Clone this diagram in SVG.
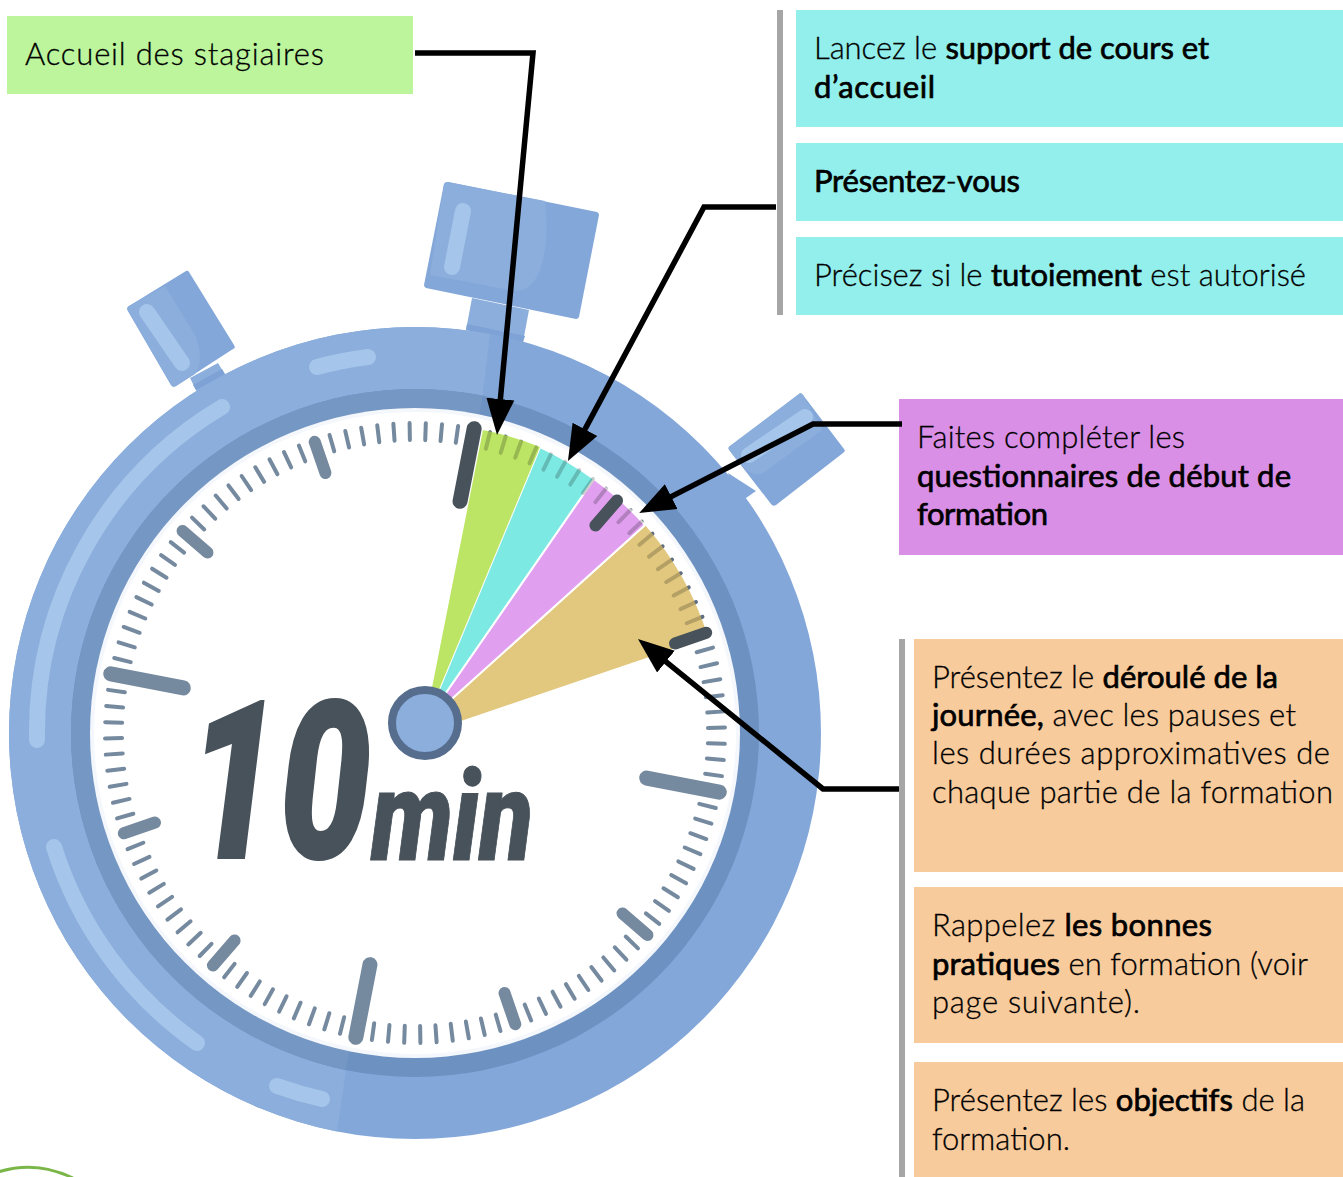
<svg xmlns="http://www.w3.org/2000/svg" xmlns:xlink="http://www.w3.org/1999/xlink" width="1343" height="1177" viewBox="0 0 1343 1177">
<style>
text.t{font-family:"Lato","Noto Sans",sans-serif;font-size:31px;font-weight:300;fill:#000;stroke:#000;stroke-width:.3px}
.b{stroke:#000;stroke-width:.7px;fill:#000;font-weight:400}
.hl{fill:none;stroke:#a6c5ea;stroke-width:16;stroke-linecap:round}
.min{stroke:#75899f;stroke-width:4;stroke-linecap:round}
.big{stroke:#75899f;stroke-width:15;stroke-linecap:round}
.dk{stroke:#48525b}
.sec{stroke:#fff;stroke-width:2}
.con{fill:none;stroke:#000;stroke-width:5.5;stroke-linejoin:miter;marker-end:url(#ah)}
.digits{font-family:"Roboto","Liberation Sans",sans-serif;font-weight:900;font-style:italic;fill:#48525b;stroke:#48525b}
.bar{fill:#a6a6a6}
</style>
<defs>
<marker id="ah" markerUnits="userSpaceOnUse" markerWidth="38" markerHeight="30" refX="16" refY="14.5" orient="auto" viewBox="0 0 38 30"><path d="M0,0.5 L36,14.5 L0,28.5 Z" fill="#000"/></marker>
<clipPath id="leftpart"><path d="M-10,200 L492,200 L490,335 L482,400 L347,1063 L333,1160 L-10,1160 Z"/></clipPath>
<g id="mt"><line x1="415" y1="423" x2="415" y2="440" class="min"/></g>
<g id="seg">
<use xlink:href="#mt" transform="rotate(3 415 733)"/><use xlink:href="#mt" transform="rotate(6 415 733)"/><use xlink:href="#mt" transform="rotate(9 415 733)"/>
<use xlink:href="#mt" transform="rotate(12 415 733)"/><use xlink:href="#mt" transform="rotate(15 415 733)"/><use xlink:href="#mt" transform="rotate(18 415 733)"/>
<use xlink:href="#mt" transform="rotate(21 415 733)"/><use xlink:href="#mt" transform="rotate(24 415 733)"/><use xlink:href="#mt" transform="rotate(27 415 733)"/>
</g>
</defs>
<rect width="1343" height="1177" fill="#fff"/>

<g id="stopwatch">
<g>
<path d="M472,298 L529,310 L523,342 L466,330 Z" fill="#8baedc"/>
<path d="M467,324 L525,336 L523,342 L466,330 Z" fill="#7ea2d5"/>
<path d="M448,182 L597,212 Q599,213 599,215 L579,317 Q578,319 576,319 L426,288 Q424,287 424,285 L444,184 Q445,182 448,182 Z" fill="#83a7d9"/>
<path d="M448,182 L545,201 Q550,240 540,270 Q530,295 510,290 L430,275 L444,184 Q445,182 448,182 Z" fill="#8baedc"/>
<line x1="463" y1="211" x2="452" y2="267" class="hl"/>
<path d="M190,378 L218,363 L227,378 L197,392 Z" fill="#8baedc"/>
<path d="M193,385 L222,369 L225,374 L196,390 Z" fill="#7ea2d5"/>
<path d="M186,271 Q188,270 189,272 L234,345 Q236,348 233,349 L176,386 Q173,388 171,385 L128,311 Q126,308 129,306 Z" fill="#83a7d9"/>
<path d="M165,286 L129,306 Q126,308 128,311 L171,385 Q173,388 176,386 L195,374 Q205,360 195,335 Z" fill="#8baedc"/>
<line x1="147" y1="312" x2="182" y2="363" class="hl"/>
<path d="M728,473 L756,491 L746,498 L735,505 Z" fill="#83a7d9"/>
<path d="M799,394 Q801,392 803,395 L844,449 Q846,451 843,453 L776,505 Q773,507 771,504 L730,451 Q727,448 730,446 Z" fill="#83a7d9"/>
<path d="M799,394 Q801,392 803,395 L822,430 L763,473 Q750,480 730,451 Q727,448 730,446 Z" fill="#8baedc"/>
<line x1="805" y1="417" x2="749" y2="455" class="hl" stroke-width="18"/>
</g>
<circle cx="415" cy="733" r="406" fill="#83a7d9"/>
<circle cx="415" cy="733" r="406" fill="#8baedc" clip-path="url(#leftpart)"/>
<circle cx="415" cy="733" r="344" fill="#6d91c1"/>
<circle cx="415" cy="733" r="344" fill="#7597c4" clip-path="url(#leftpart)"/>
<circle cx="415" cy="733" r="325" fill="#f4f7fc"/>
<circle cx="415" cy="733" r="321" fill="#fff"/>
<path class="hl" d="M222,407 A379,379 0 0 0 37,740"/>
<path class="hl" d="M54,847 A379,379 0 0 0 197,1043"/>
<path class="hl" d="M317,367 A379,379 0 0 1 368,357"/>
<path class="hl" d="M277,1086 A379,379 0 0 0 322,1099"/>
<g transform="rotate(11 415 733)">
<use xlink:href="#seg"/><use xlink:href="#seg" transform="rotate(30 415 733)"/><use xlink:href="#seg" transform="rotate(60 415 733)"/><use xlink:href="#seg" transform="rotate(90 415 733)"/>
<use xlink:href="#seg" transform="rotate(120 415 733)"/><use xlink:href="#seg" transform="rotate(150 415 733)"/><use xlink:href="#seg" transform="rotate(180 415 733)"/><use xlink:href="#seg" transform="rotate(210 415 733)"/>
<use xlink:href="#seg" transform="rotate(240 415 733)"/><use xlink:href="#seg" transform="rotate(270 415 733)"/><use xlink:href="#seg" transform="rotate(300 415 733)"/><use xlink:href="#seg" transform="rotate(330 415 733)"/>
</g>
<path fill="#e2c87e" d="M425,723 L645,525 A311,311 0 0 1 708,637 L458,722 Z"/>
<path fill="none" class="sec" d="M425,723 L645,525"/>
<path class="sec" fill="#e0a0ef" d="M425,723 L594,479 A311,311 0 0 1 645,525 Z"/>
<path class="sec" fill="#7de9e3" d="M425,723 L540,447 A311,311 0 0 1 594,479 Z"/>
<path fill="#bde565" d="M425,723 L483,430 A311,311 0 0 1 540,447 Z"/>
<g stroke="#000" stroke-opacity=".2" stroke-width="4" stroke-linecap="round">
<line x1="415" y1="423" x2="415" y2="440" transform="rotate(14 415 733)"/><line x1="415" y1="423" x2="415" y2="440" transform="rotate(17 415 733)"/><line x1="415" y1="423" x2="415" y2="440" transform="rotate(20 415 733)"/><line x1="415" y1="423" x2="415" y2="440" transform="rotate(23 415 733)"/>
<line x1="415" y1="423" x2="415" y2="440" transform="rotate(26 415 733)"/><line x1="415" y1="423" x2="415" y2="440" transform="rotate(29 415 733)"/><line x1="415" y1="423" x2="415" y2="440" transform="rotate(32 415 733)"/><line x1="415" y1="423" x2="415" y2="440" transform="rotate(35 415 733)"/>
<line x1="415" y1="423" x2="415" y2="440" transform="rotate(38 415 733)"/><line x1="415" y1="423" x2="415" y2="440" transform="rotate(44 415 733)"/><line x1="415" y1="423" x2="415" y2="440" transform="rotate(47 415 733)"/>
<line x1="415" y1="423" x2="415" y2="440" transform="rotate(50 415 733)"/><line x1="415" y1="423" x2="415" y2="440" transform="rotate(53 415 733)"/><line x1="415" y1="423" x2="415" y2="440" transform="rotate(56 415 733)"/><line x1="415" y1="423" x2="415" y2="440" transform="rotate(59 415 733)"/><line x1="415" y1="423" x2="415" y2="440" transform="rotate(62 415 733)"/><line x1="415" y1="423" x2="415" y2="440" transform="rotate(65 415 733)"/><line x1="415" y1="423" x2="415" y2="440" transform="rotate(68 415 733)"/>
</g>
<line x1="415" y1="423" x2="415" y2="497" class="big dk" transform="rotate(11 415 733)"/>
<line x1="415" y1="425" x2="415" y2="458" class="big dk" style="stroke-width:12px" transform="rotate(41 415 733)"/>
<line x1="415" y1="425" x2="415" y2="458" class="big dk" style="stroke-width:12px" transform="rotate(71 415 733)"/>
<line x1="415" y1="423" x2="415" y2="497" class="big" transform="rotate(101 415 733)"/>
<line x1="415" y1="425" x2="415" y2="458" class="big" style="stroke-width:12px" transform="rotate(131 415 733)"/>
<line x1="415" y1="425" x2="415" y2="458" class="big" style="stroke-width:12px" transform="rotate(161 415 733)"/>
<line x1="415" y1="423" x2="415" y2="497" class="big" transform="rotate(191 415 733)"/>
<line x1="415" y1="425" x2="415" y2="458" class="big" style="stroke-width:12px" transform="rotate(221 415 733)"/>
<line x1="415" y1="425" x2="415" y2="458" class="big" style="stroke-width:12px" transform="rotate(251 415 733)"/>
<line x1="415" y1="423" x2="415" y2="497" class="big" transform="rotate(281 415 733)"/>
<line x1="415" y1="425" x2="415" y2="458" class="big" style="stroke-width:12px" transform="rotate(311 415 733)"/>
<line x1="415" y1="425" x2="415" y2="458" class="big" style="stroke-width:12px" transform="rotate(341 415 733)"/>
<circle cx="425" cy="723" r="33" fill="#8baedc" stroke="#566d8d" stroke-width="8"/>
<text class="digits" transform="translate(188,858) scale(.74,1)" font-size="220" stroke-width="2">10</text>
<text class="digits" transform="translate(371,860) scale(.78,1)" font-size="126" stroke-width="1">min</text>
</g>

<path id="corner-arc" d="M-2,1172 Q36,1160 73,1178" fill="#fff" stroke="#7ab648" stroke-width="3"/>

<rect class="bar" x="777" y="10" width="6" height="305"/>
<rect class="bar" x="899" y="639" width="6" height="538"/>

<g id="n-accueil"><rect x="7" y="16" width="406" height="78" fill="#bcf59c"/>
<text class="t" x="25" y="65" textLength="299">Accueil des stagiaires</text></g>

<g id="n-support"><rect x="796" y="10" width="547" height="117" fill="#92efec"/>
<text class="t" x="814" y="59" textLength="395">Lancez le <tspan class="b">support de cours et</tspan></text>
<text class="t" x="814" y="98" textLength="121"><tspan class="b">d’accueil</tspan></text></g>

<g id="n-presentez"><rect x="796" y="143" width="547" height="78" fill="#92efec"/>
<text class="t" x="814" y="192" textLength="206"><tspan class="b">Présentez</tspan>-<tspan class="b">vous</tspan></text></g>

<g id="n-tutoiement"><rect x="796" y="237" width="547" height="78" fill="#92efec"/>
<text class="t" x="814" y="286" textLength="492">Précisez si le <tspan class="b">tutoiement</tspan> est autorisé</text></g>

<g id="n-questionnaires"><rect x="899" y="399" width="444" height="156" fill="#d98fe6"/>
<text class="t" x="917" y="448" textLength="268">Faites compléter les</text>
<text class="t" x="917" y="487" textLength="374"><tspan class="b">questionnaires de début de</tspan></text>
<text class="t" x="917" y="525" textLength="131"><tspan class="b">formation</tspan></text></g>

<g id="n-deroule"><rect x="914" y="639" width="429" height="233" fill="#f8cb9c"/>
<text class="t" x="932" y="688" textLength="346">Présentez le <tspan class="b">déroulé de la</tspan></text>
<text class="t" x="932" y="726" textLength="364"><tspan class="b">journée,</tspan> avec les pauses et</text>
<text class="t" x="932" y="764" textLength="398">les durées approximatives de</text>
<text class="t" x="932" y="803" textLength="401">chaque partie de la formation</text></g>

<g id="n-pratiques"><rect x="914" y="887" width="429" height="156" fill="#f8cb9c"/>
<text class="t" x="932" y="936" textLength="280">Rappelez <tspan class="b">les bonnes</tspan></text>
<text class="t" x="932" y="975" textLength="376"><tspan class="b">pratiques</tspan> en formation (voir</text>
<text class="t" x="932" y="1013" textLength="208">page suivante).</text></g>

<g id="n-objectifs"><rect x="914" y="1062" width="429" height="115" fill="#f8cb9c"/>
<text class="t" x="932" y="1111" textLength="373">Présentez les <tspan class="b">objectifs</tspan> de la</text>
<text class="t" x="932" y="1150" textLength="138">formation.</text></g>

<g id="connectors">
<path class="con" d="M415,53 H533 L498.9,415"/>
<path class="con" d="M776,207 H704 L577.4,443.4"/>
<path class="con" d="M902,424 H813 L657,503.9"/>
<path class="con" d="M899,789 H823 L653.5,651.6"/>
</g>
</svg>
